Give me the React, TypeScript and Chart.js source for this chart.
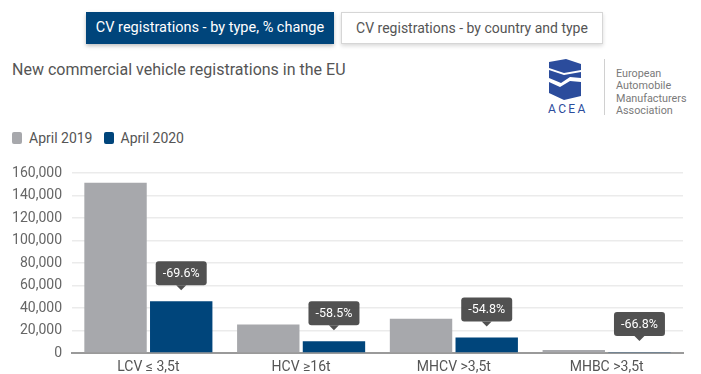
import React, { useEffect, useRef } from "react";
import { Chart, registerables } from "chart.js";

Chart.register(...registerables);

const categories = ["LCV ≤ 3,5t", "HCV ≥16t", "MHCV >3,5t", "MHBC >3,5t"];
const april2019 = [151300, 25300, 30400, 2600];
const april2020 = [46000, 10500, 13700, 860];
const pctChange = ["-69.6%", "-58.5%", "-54.8%", "-66.8%"];
const yTicks = [0, 20000, 40000, 60000, 80000, 100000, 120000, 140000, 160000];

const GRAY = "#a7a8ac";
const BLUE = "#00457b";
const FONT = "Roboto, 'Noto Sans', sans-serif";

const changeLabels = {
  id: "changeLabels",
  afterDatasetsDraw(chart: any) {
    const ctx = chart.ctx;
    const meta = chart.getDatasetMeta(1);
    ctx.save();
    ctx.font = `12.5px ${FONT}`;
    meta.data.forEach((bar: any, i: number) => {
      const text = pctChange[i];
      const tw = ctx.measureText(text).width;
      const w = tw + 14;
      const h = 24;
      const tip = bar.y - 11;
      const bottom = tip - 5;
      const x = bar.x - w / 2;
      const y = bottom - h;
      ctx.fillStyle = "rgba(72,72,72,0.95)";
      ctx.beginPath();
      ctx.roundRect(x, y, w, h, 3);
      ctx.fill();
      ctx.beginPath();
      ctx.moveTo(bar.x - 5, bottom);
      ctx.lineTo(bar.x, tip);
      ctx.lineTo(bar.x + 5, bottom);
      ctx.closePath();
      ctx.fill();
      ctx.fillStyle = "#ffffff";
      ctx.textAlign = "center";
      ctx.textBaseline = "middle";
      ctx.fillText(text, bar.x, y + h / 2 + 0.5);
    });
    ctx.restore();
  },
};

function BarChart() {
  const ref = useRef<HTMLCanvasElement>(null);
  useEffect(() => {
    if (!ref.current) return;
    const chart = new Chart(ref.current, {
      type: "bar",
      data: {
        labels: categories,
        datasets: [
          { label: "April 2019", data: april2019, backgroundColor: GRAY },
          { label: "April 2020", data: april2020, backgroundColor: BLUE },
        ],
      },
      options: {
        animation: false,
        responsive: false,
        devicePixelRatio: 1,
        layout: { padding: { top: 23, right: 18, left: 0, bottom: 0 } },
        plugins: { legend: { display: false }, tooltip: { enabled: false } },
        datasets: { bar: { categoryPercentage: 0.86, barPercentage: 0.95 } },
        scales: {
          x: {
            grid: { display: false, drawTicks: false },
            border: { display: true, color: "#9a9a9a", width: 2 },
            ticks: { color: "#555", font: { family: FONT, size: 14 }, padding: 6 },
            afterFit: (s: any) => {
              s.height = 21;
            },
          },
          y: {
            min: 0,
            max: 160000,
            afterBuildTicks: (s: any) => {
              s.ticks = yTicks.map((v) => ({ value: v }));
            },
            grid: { color: "#ebebeb", lineWidth: 1.5, drawTicks: false },
            border: { display: false },
            ticks: {
              color: "#666",
              font: { family: FONT, size: 14 },
              padding: 10,
              callback: (v: any) => Number(v).toLocaleString("en-US"),
            },
            afterFit: (s: any) => {
              s.width = 72;
            },
          },
        },
      },
      plugins: [changeLabels],
    });
    return () => chart.destroy();
  }, []);
  return <canvas ref={ref} width={701} height={224} style={{ position: "absolute", left: 0, top: 150 }} />;
}

function Logo() {
  const c = "#2b4c9c";
  return (
    <div style={{ position: "absolute", left: 546, top: 56, width: 150, height: 62 }}>
      <svg width="40" height="62" style={{ position: "absolute", left: 0, top: 0 }}>
        <polygon points="3,6 20,3 35,8 35,14 18,17 3,12" fill={c} />
        <polygon points="3,14 18,19 35,16 35,22 24,21 15,27 3,22" fill={c} />
        <polygon points="3,26 14,31 24,25 35,26 35,40 18,44 3,37" fill={c} />
        <text x="2" y="57" fill={c} fontFamily={FONT} fontSize="12" letterSpacing="2.4">ACEA</text>
      </svg>
      <div style={{ position: "absolute", left: 58, top: 3, width: 1, height: 56, background: "#d0d0d0" }} />
      <div
        style={{
          position: "absolute",
          left: 70,
          top: 12,
          fontFamily: FONT,
          fontSize: 10.8,
          lineHeight: "12.3px",
          color: "#7a7a7a",
          whiteSpace: "nowrap",
        }}
      >
        European<br />Automobile<br />Manufacturers<br />Association
      </div>
    </div>
  );
}

export default function App() {
  return (
    <div
      style={{
        position: "fixed",
        left: 0,
        top: 0,
        width: 701,
        height: 374,
        background: "#fff",
        fontFamily: FONT,
        overflow: "hidden",
      }}
    >
      <div
        style={{
          position: "absolute",
          left: 86,
          top: 12,
          width: 248,
          height: 32,
          background: "#00457b",
          color: "#fff",
          fontSize: 14.5,
          lineHeight: "32px",
          textAlign: "center",
          boxShadow: "0 2px 4px rgba(0,0,0,0.25)",
          fontWeight: 400,
        }}
      >
        CV registrations - by type, % change
      </div>
      <div
        style={{
          position: "absolute",
          left: 341,
          top: 12,
          width: 260,
          height: 30,
          background: "#fff",
          border: "1px solid #d6d6d6",
          color: "#555",
          fontSize: 14,
          lineHeight: "30px",
          textAlign: "center",
          boxShadow: "0 2px 4px rgba(0,0,0,0.15)",
        }}
      >
        CV registrations - by country and type
      </div>
      <div style={{ position: "absolute", left: 12, top: 60, fontSize: 16, color: "#555", whiteSpace: "nowrap" }}>
        New commercial vehicle registrations in the EU
      </div>
      <Logo />
      <div style={{ position: "absolute", left: 12, top: 130, fontSize: 14, color: "#555", display: "flex", alignItems: "center", whiteSpace: "nowrap" }}>
        <span style={{ display: "inline-block", width: 10, height: 12, background: GRAY, borderRadius: 2, marginRight: 7 }} />
        <span style={{ marginRight: 11 }}>April 2019</span>
        <span style={{ display: "inline-block", width: 10, height: 12, background: BLUE, borderRadius: 2, marginRight: 7 }} />
        <span>April 2020</span>
      </div>
      <BarChart />
    </div>
  );
}
